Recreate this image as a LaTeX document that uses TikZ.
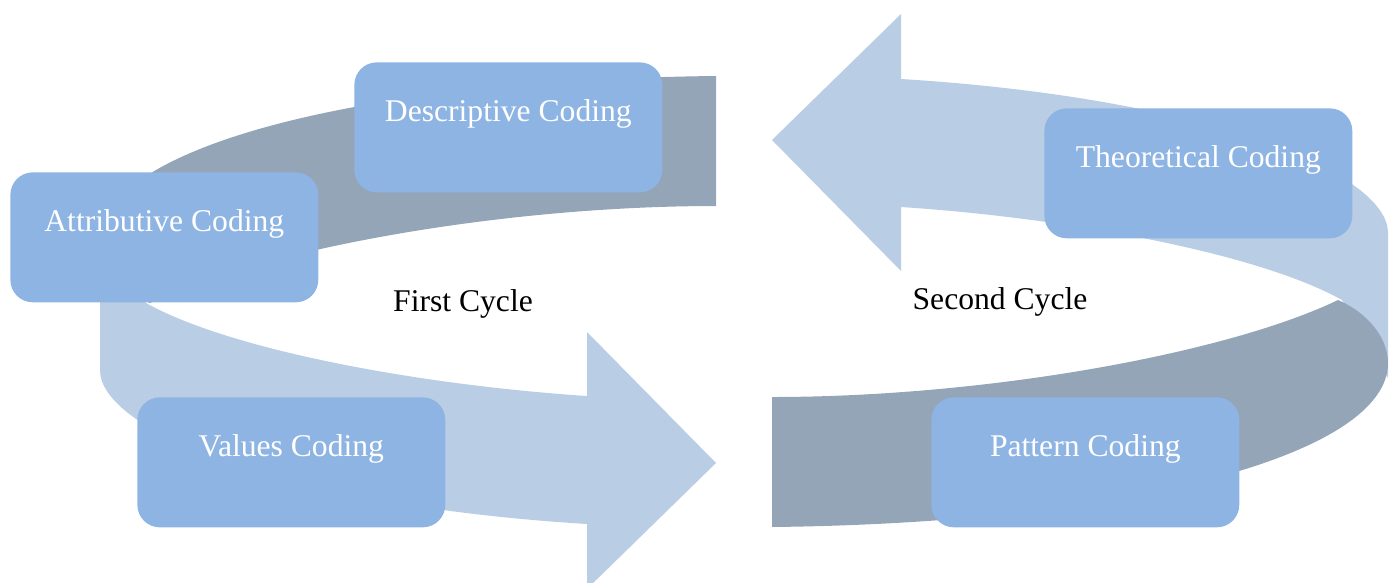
\documentclass[tikz,border=0pt]{standalone}
\usepackage{fontspec}
\setmainfont{Liberation Serif}
\usepackage{xcolor}
\usepackage{tikz}
\usetikzlibrary{positioning}

\definecolor{boxblue}{HTML}{8EB4E3}
\definecolor{bandlight}{HTML}{B9CDE5}
\definecolor{banddark}{HTML}{94A5B8}

\begin{document}
\begin{tikzpicture}[x=0.02cm, y=-0.02cm,
    codebox/.style={fill=boxblue, rounded corners=0.45cm, text=white, inner sep=0pt,
        minimum width=6.16cm, text height=1.19cm, text depth=1.41cm,
        anchor=north west, font=\fontsize{18}{20}\selectfont},
    cyclelabel/.style={font=\fontsize{18}{20}\selectfont}]
    \useasboundingbox (0,0) rectangle (1395,582);
    \clip (0,0) rectangle (1395,582);

    % Curved bands, the second cycle is the first one turned round
    \foreach \turn in {0,180} {
        \begin{scope}[rotate around={\turn:(744,301.5)}]
            % Front band with arrow head
            \fill[bandlight] (100,225) -- (100,370)
                .. controls (100,430) and (280,505) .. (587,524)
                -- (587,589) -- (716,463) -- (587,332) -- (587,396)
                .. controls (420,385) and (230,350) .. (146,303) -- cycle;
            % Back band
            \fill[banddark] (716,76) -- (716,206)
                .. controls (500,206) and (260,250) .. (150,303)
                .. controls (120,290) and (100,265) .. (100,240)
                .. controls (100,150) and (350,80) .. (716,76) -- cycle;
        \end{scope}
    }

    % First cycle
    \node[codebox] (descriptive) at (354,62) {Descriptive Coding};
    \node[codebox] (attributive) at (10,172) {Attributive Coding};
    \node[codebox] (values) at (137,397) {Values Coding};
    \node[cyclelabel] (first) at (463,304) {First Cycle};

    % Second cycle
    \node[codebox] (theoretical) at (1044,108) {Theoretical Coding};
    \node[codebox] (pattern) at (931,397) {Pattern Coding};
    \node[cyclelabel] (second) at (1000,302) {Second Cycle};
\end{tikzpicture}
\end{document}
